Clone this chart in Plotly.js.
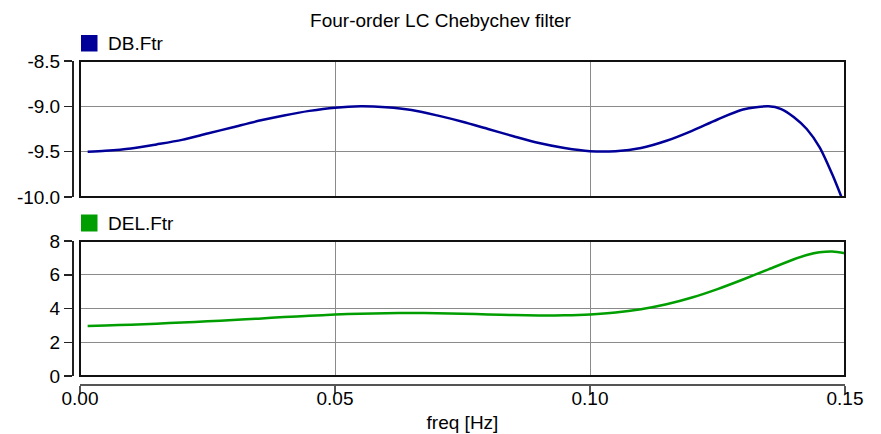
<!DOCTYPE html>
<html>
<head>
<meta charset="utf-8">
<script src="https://cdn.plot.ly/plotly-3.0.1.min.js"></script>
<style>html,body{margin:0;padding:0;background:#fff;}#chart{width:881px;height:434px;}</style>
</head>
<body>
<div id="chart"></div>
<script>
// ---- data ----
const freqDB = [0.0015,0.005,0.01,0.015,0.02,0.025,0.03,0.035,0.04,0.045,0.05,0.055,0.06,0.065,0.07,0.075,0.08,0.085,0.09,0.095,0.10,0.105,0.11,0.115,0.12,0.125,0.13,0.135,0.1375,0.14,0.1425,0.145,0.1475,0.15];
const dbFtr  = [-9.50,-9.49,-9.465,-9.42,-9.37,-9.30,-9.23,-9.16,-9.10,-9.05,-9.015,-9.00,-9.01,-9.04,-9.10,-9.17,-9.25,-9.33,-9.405,-9.46,-9.495,-9.495,-9.46,-9.38,-9.27,-9.145,-9.035,-9.00,-9.03,-9.12,-9.25,-9.45,-9.75,-10.1];

const freqDEL = [0.0015,0.005,0.01,0.015,0.02,0.025,0.03,0.035,0.04,0.045,0.05,0.055,0.06,0.065,0.07,0.075,0.08,0.085,0.09,0.095,0.10,0.105,0.11,0.115,0.12,0.125,0.13,0.135,0.14,0.1425,0.145,0.1475,0.15];
const delFtr  = [2.97,3.00,3.04,3.10,3.17,3.24,3.32,3.40,3.49,3.57,3.64,3.69,3.72,3.73,3.72,3.69,3.65,3.61,3.59,3.60,3.65,3.76,3.96,4.25,4.65,5.15,5.72,6.32,6.92,7.17,7.33,7.38,7.28];

const seriesNames = ['DB.Ftr', 'DEL.Ftr'];
const seriesColors = ['#000099', '#009e00'];
const titleText = 'Four-order LC Chebychev filter';
const xTitle = 'freq [Hz]';

const xTickVals = [0, 0.05, 0.10, 0.15];
const xTickText = ['0.00', '0.05', '0.10', '0.15'];
const dbTickVals = [-8.5, -9.0, -9.5, -10.0];
const dbTickText = ['-8.5', '-9.0', '-9.5', '-10.0'];
const delTickVals = [0, 2, 4, 6, 8];
const delTickText = ['0', '2', '4', '6', '8'];

// ---- layout helpers ----
const FONT = 'Liberation Sans, Arial, Helvetica, sans-serif';
const FS = 19;
const W = 881, H = 434;
const M = {l: 72, r: 36, t: 61, b: 49};
const PW = W - M.l - M.r, PH = H - M.t - M.b;
const px = x => (x - M.l) / PW;           // pixel -> paper x
const py = y => (H - M.b - y) / PH;       // pixel -> paper y

const xDomain = [px(80), 1];
const topDomain = [py(197), 1];
const botDomain = [py(376), py(241)];

const traces = [
  {x: freqDB, y: dbFtr, xaxis: 'x2', yaxis: 'y2', type: 'scatter', mode: 'lines',
   name: seriesNames[0], line: {color: seriesColors[0], width: 2.5, shape: 'spline', smoothing: 0.8}},
  {x: freqDEL, y: delFtr, xaxis: 'x', yaxis: 'y', type: 'scatter', mode: 'lines',
   name: seriesNames[1], line: {color: seriesColors[1], width: 2.5, shape: 'spline', smoothing: 0.8}}
];

const gridC = '#8a8a8a';
const axisLine = '#222';

const layout = {
  width: W, height: H,
  margin: M,
  paper_bgcolor: '#fff', plot_bgcolor: '#fff',
  showlegend: false,
  font: {family: FONT, size: FS, color: '#000'},
  title: {text: titleText, font: {family: FONT, size: FS, color: '#000'},
          x: 0.5, xref: 'container', xanchor: 'center',
          y: 1 - 20 / H, yref: 'container', yanchor: 'middle'},
  xaxis: {
    domain: xDomain, anchor: 'free', position: 0,
    range: [0, 0.15], tickvals: xTickVals, ticktext: xTickText,
    showline: true, linecolor: '#555', linewidth: 2,
    ticks: 'outside', ticklen: 8, tickwidth: 1.5, tickcolor: '#555',
    ticklabelstandoff: -12,
    showgrid: true, gridcolor: gridC, gridwidth: 1, zeroline: false,
    tickfont: {family: FONT, size: FS, color: '#000'},
    title: {text: xTitle, font: {family: FONT, size: FS, color: '#000'}, standoff: 7}
  },
  yaxis: {
    domain: botDomain, anchor: 'free', position: 0,
    range: [0, 8], tickvals: delTickVals, ticktext: delTickText,
    showline: true, linecolor: axisLine, linewidth: 1.5,
    ticks: 'outside', ticklen: 8, tickwidth: 1.5, tickcolor: axisLine,
    showgrid: true, gridcolor: gridC, gridwidth: 1, zeroline: false,
    tickfont: {family: FONT, size: FS, color: '#000'}
  },
  xaxis2: {
    domain: xDomain, anchor: 'y2', matches: 'x',
    range: [0, 0.15], tickvals: xTickVals,
    showticklabels: false, ticks: '', showline: false,
    showgrid: true, gridcolor: gridC, gridwidth: 1, zeroline: false
  },
  yaxis2: {
    domain: topDomain, anchor: 'free', position: 0,
    range: [-10, -8.5], tickvals: dbTickVals, ticktext: dbTickText,
    showline: true, linecolor: axisLine, linewidth: 1.5,
    ticks: 'outside', ticklen: 8, tickwidth: 1.5, tickcolor: axisLine,
    showgrid: true, gridcolor: gridC, gridwidth: 1, zeroline: false,
    tickfont: {family: FONT, size: FS, color: '#000'}
  },
  shapes: [
    {type: 'rect', xref: 'x2 domain', yref: 'y2 domain', x0: 0, x1: 1, y0: 0, y1: 1,
     line: {color: '#111', width: 2}, layer: 'above'},
    {type: 'rect', xref: 'x domain', yref: 'y domain', x0: 0, x1: 1, y0: 0, y1: 1,
     line: {color: '#111', width: 2}, layer: 'above'},
    {type: 'rect', xref: 'paper', yref: 'paper', x0: px(81), x1: px(97.5), y0: py(51.5), y1: py(35),
     fillcolor: seriesColors[0], line: {width: 0}},
    {type: 'rect', xref: 'paper', yref: 'paper', x0: px(81), x1: px(97.5), y0: py(231.5), y1: py(214.5),
     fillcolor: seriesColors[1], line: {width: 0}}
  ],
  annotations: [
    {text: seriesNames[0], xref: 'paper', yref: 'paper', x: px(106), y: py(43.5),
     xanchor: 'left', yanchor: 'middle', showarrow: false, font: {family: FONT, size: FS, color: '#000'}},
    {text: seriesNames[1], xref: 'paper', yref: 'paper', x: px(106), y: py(223.5),
     xanchor: 'left', yanchor: 'middle', showarrow: false, font: {family: FONT, size: FS, color: '#000'}}
  ]
};

Plotly.newPlot('chart', traces, layout, {staticPlot: true, displayModeBar: false});
</script>
</body>
</html>
